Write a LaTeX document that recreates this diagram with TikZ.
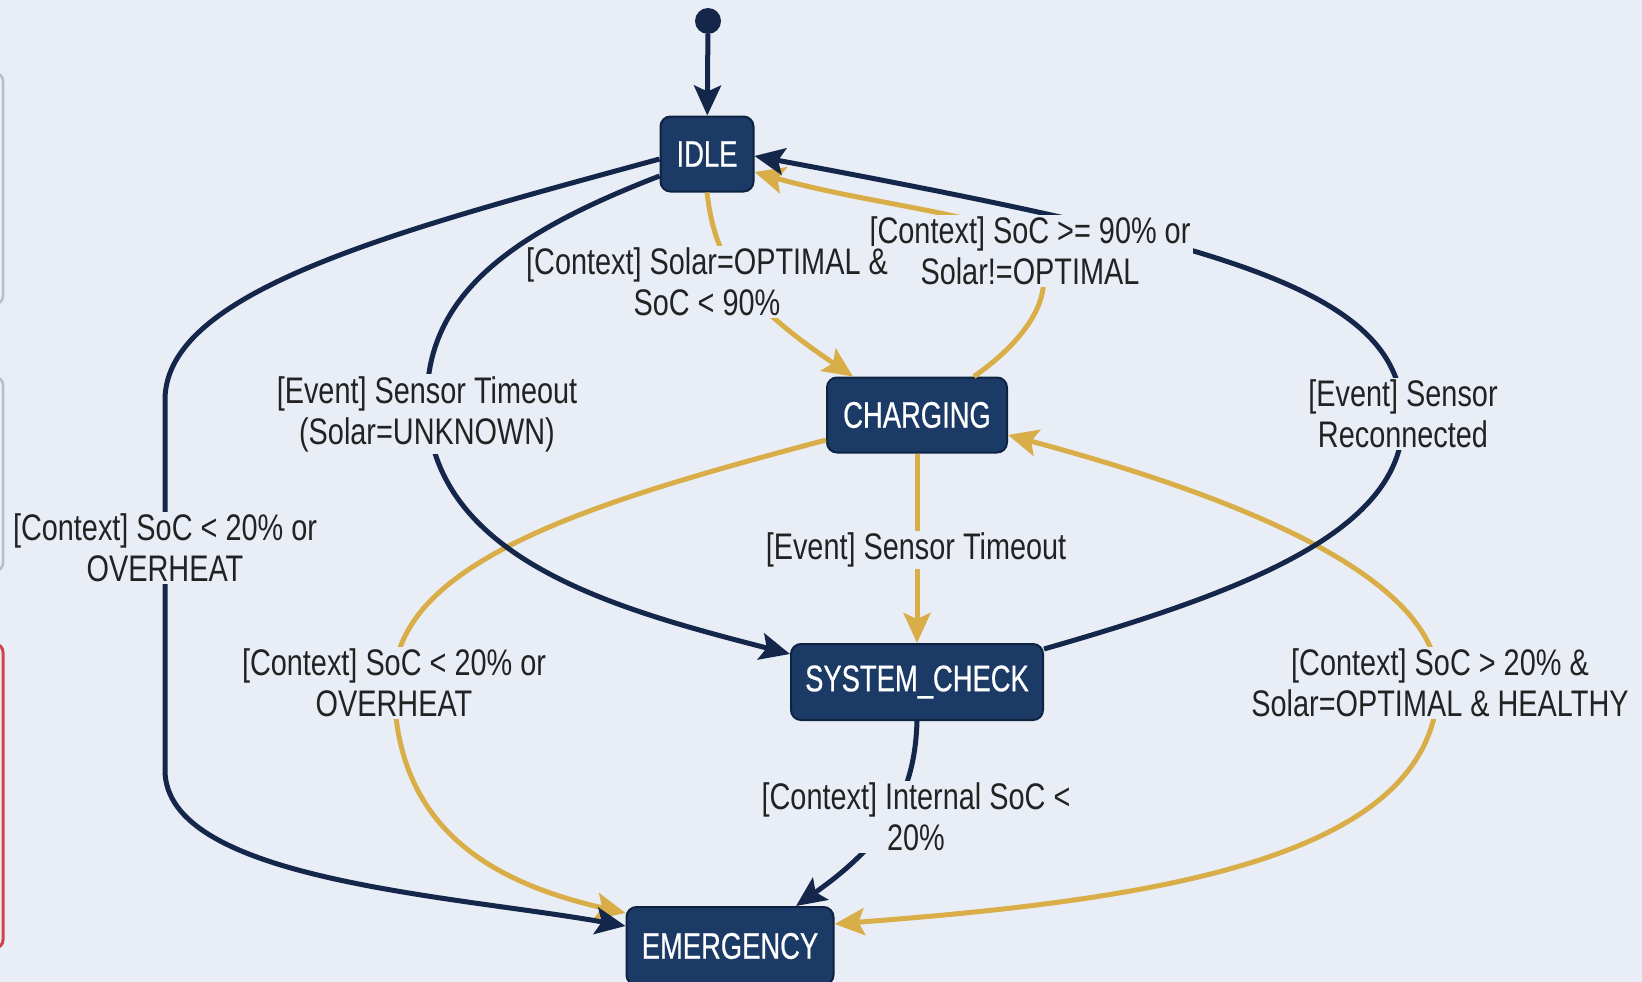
\documentclass[tikz,border=0pt]{standalone}
\usepackage{fontspec}
\setmainfont{Liberation Sans}[FakeStretch=0.78]
\newfontfamily\nodefam{Liberation Sans}[FakeStretch=0.74, FakeBold=0.5]
\usetikzlibrary{arrows.meta}
\definecolor{bg}{HTML}{E9EEF6}
\definecolor{nodefill}{HTML}{1B3B66}
\definecolor{nodeborder}{HTML}{0E2242}
\definecolor{navyline}{HTML}{14264A}
\definecolor{goldline}{HTML}{D9AE48}
\definecolor{txt}{HTML}{222222}
\definecolor{panelgray}{HTML}{B9BEC6}
\definecolor{panelred}{HTML}{D04545}
\newcommand\mylabfont{\fontsize{37}{41}\selectfont}
\newcommand\mynodefont{\nodefam\fontsize{37}{40}\selectfont}
\begin{document}
\begin{tikzpicture}[x=1pt,y=-1pt,
  state/.style={draw=nodeborder, line width=2pt, fill=nodefill, rounded corners=10pt, text=white, font=\mynodefont, inner sep=0pt},
  navy/.style={draw=navyline, line width=5pt, -{Stealth[length=30pt,width=27pt,inset=6pt]}},
  gold/.style={draw=goldline, line width=5pt, -{Stealth[length=30pt,width=27pt,inset=6pt]}},
  lab/.style={fill=bg, inner xsep=3pt, inner ysep=2pt, align=center, text=txt, font=\mylabfont},
]
\fill[bg] (0,0) rectangle (1642,982);
\useasboundingbox (0,0) rectangle (1642,982);

% left-edge panel slivers
\draw[panelgray, line width=2.5pt, rounded corners=8pt] (-40,73) rectangle (3,304);
\draw[panelgray, line width=2.5pt, rounded corners=8pt] (-40,377) rectangle (3,571);
\draw[panelred, line width=3pt, rounded corners=8pt] (-40,644) rectangle (3,948);

% states
\node[circle, fill=navyline, minimum size=26pt, inner sep=0pt] (init) at (708,21) {};
\node[state, minimum width=93pt, minimum height=75pt] (idle) at (707,154) {IDLE};
\node[state, minimum width=180pt, minimum height=75pt] (charging) at (917,415) {CHARGING};
\node[state, minimum width=252pt, minimum height=76pt] (check) at (917,682) {SYSTEM\_CHECK};
\node[state, minimum width=207pt, minimum height=78pt] (emerg) at (730,946) {EMERGENCY};

% gold transitions
\draw[gold] (idle.south) .. controls (715,260) and (740,300) .. ([xshift=-64pt]charging.north);
\draw[gold] ([xshift=57pt]charging.north) .. controls (1040,330) and (1060,280) .. (1030,245)
   .. controls (1000,215) and (870,205) .. ([yshift=-18pt]idle.east);
\draw[gold] (charging) -- (check);
\draw[gold] ([yshift=-25pt]charging.west) .. controls (600,500) and (394,560) .. (394,683)
   .. controls (394,820) and (480,880) .. ([yshift=33pt]emerg.west);
\draw[gold, {Stealth[length=30pt,width=27pt,inset=6pt]}-{Stealth[length=30pt,width=27pt,inset=6pt]}]
   ([yshift=22pt]emerg.east) .. controls (1150,900) and (1438,860) .. (1438,683)
   .. controls (1438,580) and (1250,500) .. ([yshift=-20pt]charging.east);

% navy transitions
\draw[navy] (init) -- (idle);
\draw[navy] ([yshift=-5pt]idle.west) .. controls (400,230) and (165,290) .. (165,400)
   -- (165,770) .. controls (165,880) and (450,895) .. ([yshift=20pt]emerg.west);
\draw[navy] ([yshift=-22pt]idle.west) .. controls (520,230) and (427,290) .. (427,400)
   .. controls (427,560) and (620,610) .. ([yshift=28pt]check.west);
\draw[navy] (check.south) .. controls (915,790) and (890,840) .. ([xshift=66pt]emerg.north);
\draw[navy] ([yshift=-6pt]check.north east) .. controls (1250,590) and (1403,530) .. (1403,420)
   .. controls (1403,290) and (1230,245) .. ([yshift=-2pt]idle.east);

% labels
\node[lab] (l2) at (165,548) {[Context] SoC < 20\% or\\OVERHEAT};
\node[lab] (l3) at (427,414) {[Event] Sensor Timeout\\(Solar=UNKNOWN)};
\node[lab] (l5) at (1030,251) {[Context] SoC >= 90\% or\\Solar!=OPTIMAL};
\node[lab] (l4) at (707,282) {[Context] Solar=OPTIMAL \&\\SoC < 90\%};
\node[lab] (l6) at (916,550) {[Event] Sensor Timeout};
\node[lab] (l7) at (394,683) {[Context] SoC < 20\% or\\OVERHEAT};
\node[lab] (l8) at (1440,683) {[Context] SoC > 20\% \&\\Solar=OPTIMAL \& HEALTHY};
\node[lab] (l9) at (916,817) {[Context] Internal SoC <\\20\%};
\node[lab] (l10) at (1403,414) {[Event] Sensor\\Reconnected};
\end{tikzpicture}
\end{document}
